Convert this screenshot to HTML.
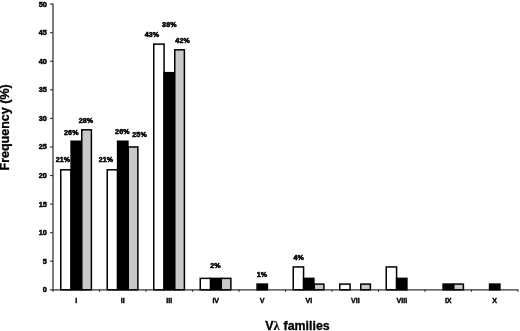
<!DOCTYPE html><html><head><meta charset="utf-8"><title>chart</title><style>html,body{margin:0;padding:0;background:#fff}svg{display:block}text{font-family:"Liberation Sans",sans-serif;font-weight:bold;fill:#000;stroke:#000;stroke-width:0.5px}.t{stroke-width:0.3px}</style></head><body>
<svg width="520" height="331" viewBox="0 0 520 331">
<rect width="520" height="331" fill="#fff"/>
<g stroke="#505050" stroke-width="1.5" fill="none">
<path d="M53.0 3.6 V291.8"/>
</g>
<g stroke="#333" stroke-width="1.15" fill="none">
<path d="M50.1 289.8 H518.2"/>
<path d="M50.1 261.23 H53.0"/>
<path d="M50.1 232.66 H53.0"/>
<path d="M50.1 204.09 H53.0"/>
<path d="M50.1 175.52 H53.0"/>
<path d="M50.1 146.95 H53.0"/>
<path d="M50.1 118.38 H53.0"/>
<path d="M50.1 89.81 H53.0"/>
<path d="M50.1 61.24 H53.0"/>
<path d="M50.1 32.67 H53.0"/>
<path d="M50.1 4.10 H53.0"/>
<path d="M99.50 289.8 V291.8"/>
<path d="M146.00 289.8 V291.8"/>
<path d="M192.50 289.8 V291.8"/>
<path d="M239.00 289.8 V291.8"/>
<path d="M285.50 289.8 V291.8"/>
<path d="M332.00 289.8 V291.8"/>
<path d="M378.50 289.8 V291.8"/>
<path d="M425.00 289.8 V291.8"/>
<path d="M471.50 289.8 V291.8"/>
<path d="M518.00 289.8 V291.8"/>
</g>
<text transform="translate(46.9 292.30)" font-size="7.3" text-anchor="end">0</text>
<text transform="translate(46.9 263.73)" font-size="7.3" text-anchor="end">5</text>
<text transform="translate(46.9 235.16)" font-size="7.3" text-anchor="end">10</text>
<text transform="translate(46.9 206.59)" font-size="7.3" text-anchor="end">15</text>
<text transform="translate(46.9 178.02)" font-size="7.3" text-anchor="end">20</text>
<text transform="translate(46.9 149.45)" font-size="7.3" text-anchor="end">25</text>
<text transform="translate(46.9 120.88)" font-size="7.3" text-anchor="end">30</text>
<text transform="translate(46.9 92.31)" font-size="7.3" text-anchor="end">35</text>
<text transform="translate(46.9 63.74)" font-size="7.3" text-anchor="end">40</text>
<text transform="translate(46.9 35.17)" font-size="7.3" text-anchor="end">45</text>
<text transform="translate(46.9 6.60)" font-size="7.3" text-anchor="end">50</text>
<g stroke="#000" stroke-width="1.5">
<rect x="60.75" y="169.81" width="10.33" height="119.99" fill="#fff"/>
<rect x="71.08" y="141.24" width="10.33" height="148.56" fill="#000"/>
<rect x="81.76" y="129.81" width="9.63" height="159.99" fill="#c8c8c8"/>
<rect x="107.25" y="169.81" width="10.33" height="119.99" fill="#fff"/>
<rect x="117.58" y="141.24" width="10.33" height="148.56" fill="#000"/>
<rect x="128.26" y="146.95" width="9.63" height="142.85" fill="#c8c8c8"/>
<rect x="153.75" y="44.10" width="10.33" height="245.70" fill="#fff"/>
<rect x="164.08" y="72.67" width="10.33" height="217.13" fill="#000"/>
<rect x="174.76" y="49.81" width="9.63" height="239.99" fill="#c8c8c8"/>
<rect x="200.25" y="278.37" width="10.33" height="11.43" fill="#fff"/>
<rect x="210.58" y="278.37" width="10.33" height="11.43" fill="#000"/>
<rect x="221.26" y="278.37" width="9.63" height="11.43" fill="#c8c8c8"/>
<rect x="257.08" y="284.09" width="10.33" height="5.71" fill="#000"/>
<rect x="293.25" y="266.94" width="10.33" height="22.86" fill="#fff"/>
<rect x="303.58" y="278.37" width="10.33" height="11.43" fill="#000"/>
<rect x="314.26" y="284.09" width="9.63" height="5.71" fill="#c8c8c8"/>
<rect x="339.75" y="284.09" width="10.33" height="5.71" fill="#fff"/>
<rect x="360.76" y="284.09" width="9.63" height="5.71" fill="#c8c8c8"/>
<rect x="386.25" y="266.94" width="10.33" height="22.86" fill="#fff"/>
<rect x="396.58" y="278.37" width="10.33" height="11.43" fill="#000"/>
<rect x="443.08" y="284.09" width="10.33" height="5.71" fill="#000"/>
<rect x="453.76" y="284.09" width="9.63" height="5.71" fill="#c8c8c8"/>
<rect x="489.58" y="284.09" width="10.33" height="5.71" fill="#000"/>
</g>
<text transform="translate(76.25 303.4) scale(0.93 1)" style="stroke-width:0.4px" font-size="7.7" text-anchor="middle">I</text>
<text transform="translate(122.75 303.4) scale(0.93 1)" style="stroke-width:0.4px" font-size="7.7" text-anchor="middle">II</text>
<text transform="translate(169.25 303.4) scale(0.93 1)" style="stroke-width:0.4px" font-size="7.7" text-anchor="middle">III</text>
<text transform="translate(215.75 303.4) scale(0.93 1)" style="stroke-width:0.4px" font-size="7.7" text-anchor="middle">IV</text>
<text transform="translate(262.25 303.4) scale(0.93 1)" style="stroke-width:0.4px" font-size="7.7" text-anchor="middle">V</text>
<text transform="translate(308.75 303.4) scale(0.93 1)" style="stroke-width:0.4px" font-size="7.7" text-anchor="middle">VI</text>
<text transform="translate(355.25 303.4) scale(0.93 1)" style="stroke-width:0.4px" font-size="7.7" text-anchor="middle">VII</text>
<text transform="translate(401.75 303.4) scale(0.93 1)" style="stroke-width:0.4px" font-size="7.7" text-anchor="middle">VIII</text>
<text transform="translate(448.25 303.4) scale(0.93 1)" style="stroke-width:0.4px" font-size="7.7" text-anchor="middle">IX</text>
<text transform="translate(494.75 303.4) scale(0.93 1)" style="stroke-width:0.4px" font-size="7.7" text-anchor="middle">X</text>
<text x="63" y="161.8" font-size="7.1" style="stroke-width:0.55px;letter-spacing:0.15px" text-anchor="middle">21%</text>
<text x="71.3" y="134.5" font-size="7.1" style="stroke-width:0.55px;letter-spacing:0.15px" text-anchor="middle">26%</text>
<text x="86" y="123.0" font-size="7.1" style="stroke-width:0.55px;letter-spacing:0.15px" text-anchor="middle">28%</text>
<text x="106" y="161.8" font-size="7.1" style="stroke-width:0.55px;letter-spacing:0.15px" text-anchor="middle">21%</text>
<text x="122.4" y="133.60000000000002" font-size="7.1" style="stroke-width:0.55px;letter-spacing:0.15px" text-anchor="middle">26%</text>
<text x="139.6" y="136.60000000000002" font-size="7.1" style="stroke-width:0.55px;letter-spacing:0.15px" text-anchor="middle">25%</text>
<text x="152" y="36.8" font-size="7.1" style="stroke-width:0.55px;letter-spacing:0.15px" text-anchor="middle">43%</text>
<text x="169.4" y="26.8" font-size="7.1" style="stroke-width:0.55px;letter-spacing:0.15px" text-anchor="middle">38%</text>
<text x="182.7" y="42.599999999999994" font-size="7.1" style="stroke-width:0.55px;letter-spacing:0.15px" text-anchor="middle">42%</text>
<text x="215.5" y="267.8" font-size="7.1" style="stroke-width:0.55px;letter-spacing:0.15px" text-anchor="middle">2%</text>
<text x="262" y="277.0" font-size="7.1" style="stroke-width:0.55px;letter-spacing:0.15px" text-anchor="middle">1%</text>
<text x="298.8" y="259.8" font-size="7.1" style="stroke-width:0.55px;letter-spacing:0.15px" text-anchor="middle">4%</text>
<text class="t" x="265.3" y="329.5" font-size="12.4">V<tspan font-size="12.6" font-family="Liberation Serif, serif" stroke-width="0.15">λ</tspan><tspan dx="0.4"> families</tspan></text>
<text class="t" transform="translate(9.2,127.4) rotate(-90)" font-size="12.5" text-anchor="middle">Frequency (%)</text>
</svg></body></html>
